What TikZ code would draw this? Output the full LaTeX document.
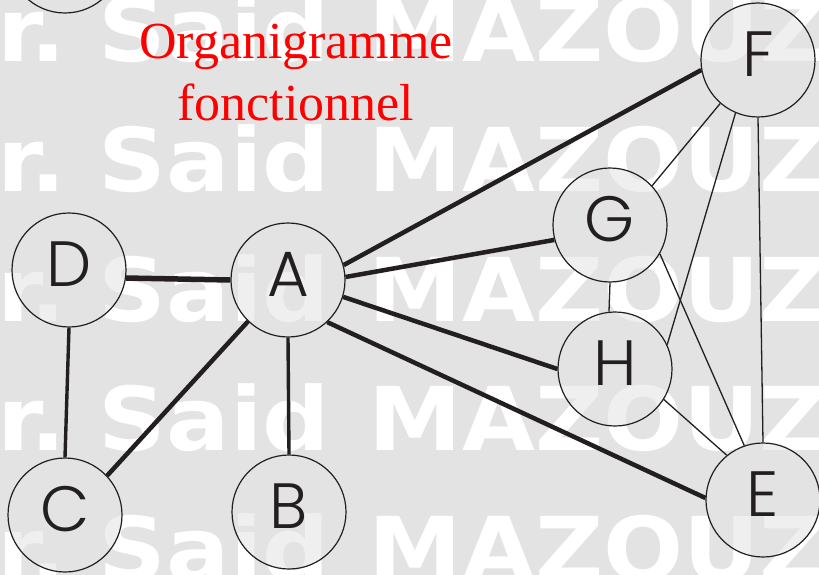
\documentclass[tikz,border=0pt]{standalone}
\usepackage{fontspec}
\setmainfont{Liberation Serif}
\newfontfamily\lettrefont{Poppins Light}
\newfontfamily\filigrane[FakeStretch=1.07]{DejaVu Sans}
\usepackage{xcolor}
\usetikzlibrary{arrows.meta, calc}
\definecolor{fondgris}{RGB}{227,227,227}
\definecolor{encre}{RGB}{35,31,32}

\begin{document}
\begin{tikzpicture}[x=1pt, y=-1pt,
    poste/.style ={draw=encre, circle, line width=1.2pt, minimum size=114pt,
                   inner sep=0pt, fill=fondgris, fill opacity=0.55, text opacity=1,
                   text=encre, text height=45pt, text depth=12pt,
                   font=\lettrefont\fontsize{64}{64}\selectfont},
    fort/.style  ={draw=encre, line width=4.5pt},
    moyen/.style ={draw=encre, line width=3.4pt},
    fin/.style   ={draw=encre, line width=1.3pt},
    marque/.style={anchor=base west, inner sep=0pt, text=white,
                   font=\filigrane\bfseries\fontsize{88}{88}\selectfont},
    titre/.style ={anchor=north, align=center, inner sep=0pt, text=red,
                   font=\fontsize{52}{62}\selectfont},
]
\fill[fondgris] (0,0) rectangle (819,575);
\clip (0,0) rectangle (819,575);
% filigrane
\foreach \y [count=\i] in {62,191.5,321,450.5,580}
  \node[marque] (marque\i) at (-72,\y) {Pr.\ Said\hspace{6pt} MAZOUZ};
\node[titre] (titre) at (296,24) {Organigramme\\fonctionnel};
% postes
\node[poste] (haut) at (65,-44) {};
\node[poste] (D) at (69,270) {D};
\node[poste] (A) at (288,280) {A};
\node[poste] (C) at (65,515) {C};
\node[poste] (B) at (289,512) {B};
\node[poste] (F) at (758,60) {F};
\node[poste] (G) at (610,225) {G};
\node[poste] (H) at (615,369) {H};
\node[poste] (E) at (763,500) {E};
% liaisons
\draw[fort, line width=5.5pt] (A.180) -- (D.-8);
\draw[fort] (A.15) -- (F.190);
\draw[fort] (A.3) -- (G.195);
\draw[fort] (A.-17) -- (H.180);
\draw[fort] (A.-47) -- (E.178);
\draw[fort] (A.226) -- (C.43);
\draw[moyen] (A.south) -- (B.north);
\draw[moyen] (D.south) -- (C.north);
\draw[fin] (F.229) -- (G.43);
\draw[fin] (F.247) -- (H.25);
\draw[fin] (F.south) -- (E.north);
\draw[fin] (G.south) -- (H.96);
\draw[fin] (G.-30) -- (E.109);
\draw[fin] (H.-32) -- (E.129);
\end{tikzpicture}
\end{document}
